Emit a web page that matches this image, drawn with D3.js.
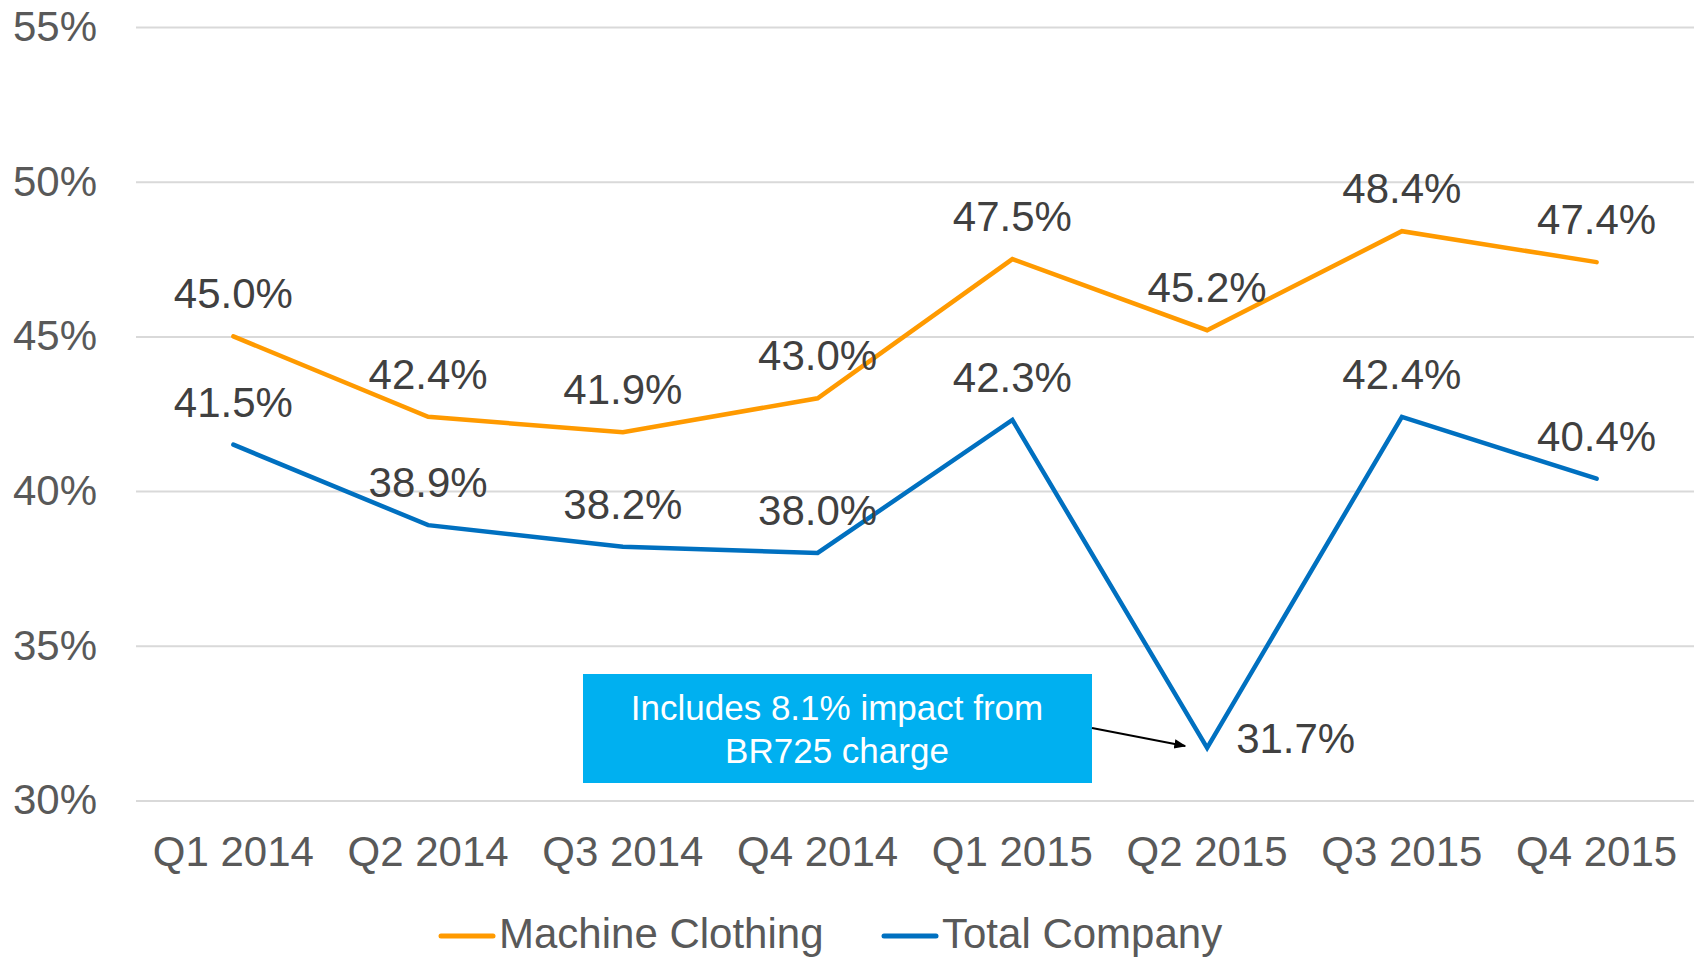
<!DOCTYPE html>
<html lang="en">
<head>
    <meta charset="UTF-8">
    <title>Gross Margin</title>
    <script src="https://d3js.org/d3.v7.min.js"></script>
    <style>
        body { margin: 0; background: #fff; }
        svg { display: block; font-family: Arial, "Liberation Sans", sans-serif; }
    </style>
</head>
<body>
<svg id="chart"></svg>
<script>
    const QUARTERS = ['Q1 2014', 'Q2 2014', 'Q3 2014', 'Q4 2014', 'Q1 2015', 'Q2 2015', 'Q3 2015', 'Q4 2015'];
    const MACHINE_CLOTHING = [45.0, 42.4, 41.9, 43.0, 47.5, 45.2, 48.4, 47.4];
    const TOTAL_COMPANY = [41.5, 38.9, 38.2, 38.0, 42.3, 31.7, 42.4, 40.4];
    const Y_TICKS = [30, 35, 40, 45, 50, 55];
    const SERIES_NAMES = ['Machine Clothing', 'Total Company'];
    const NOTE_LINES = ['Includes 8.1% impact from', 'BR725 charge'];

    const width = 1694;
    const height = 959;

    const svg = d3.select('#chart')
        .attr('width', width)
        .attr('height', height);

    const xScale = d3.scaleBand().domain(QUARTERS).range([136, 1694]);
    const yScale = d3.scaleLinear().domain([30, 55]).range([800.5, 27]);
    const cx = q => xScale(q) + xScale.bandwidth() / 2;

    // gridlines + y labels
    const yAxis = svg.append('g')
        .attr('transform', 'translate(136,0)')
        .call(d3.axisLeft(yScale).tickValues(Y_TICKS).tickSize(-(1694 - 136)).tickPadding(39)
            .tickFormat(d => d + '%'));
    yAxis.select('.domain').remove();
    yAxis.selectAll('.tick line').attr('stroke', '#d9d9d9').attr('stroke-width', 2);
    yAxis.selectAll('.tick text')
        .attr('font-size', 42).attr('fill', '#595959')
        .attr('font-family', 'Arial, "Liberation Sans", sans-serif');

    // x labels
    const xAxis = svg.append('g')
        .attr('transform', 'translate(0,800.5)')
        .call(d3.axisBottom(xScale).tickSize(0).tickPadding(36));
    xAxis.select('.domain').remove();
    xAxis.selectAll('.tick text')
        .attr('font-size', 42).attr('fill', '#595959')
        .attr('font-family', 'Arial, "Liberation Sans", sans-serif');

    const line = d3.line()
        .x((d, i) => cx(QUARTERS[i]))
        .y(d => yScale(d));

    const series = [
        {name: SERIES_NAMES[0], values: MACHINE_CLOTHING, color: '#ff9a00'},
        {name: SERIES_NAMES[1], values: TOTAL_COMPANY, color: '#0070c0'}
    ];

    series.forEach(s => {
        svg.append('path')
            .datum(s.values)
            .attr('fill', 'none')
            .attr('stroke', s.color)
            .attr('stroke-width', 4.5)
            .attr('stroke-linejoin', 'miter')
            .attr('stroke-linecap', 'round')
            .attr('d', line);
    });

    // data labels (the Q2 2015 dip is labelled to the right)
    series.forEach(s => {
        const side = (i) => s.name === 'Total Company' && i === 5;
        svg.append('g').selectAll('text')
            .data(s.values)
            .enter()
            .append('text')
            .attr('x', (d, i) => side(i) ? cx(QUARTERS[i]) + 29 : cx(QUARTERS[i]))
            .attr('y', (d, i) => side(i) ? yScale(d) + 5 : yScale(d) - 28)
            .attr('text-anchor', (d, i) => side(i) ? 'start' : 'middle')
            .attr('font-size', 42)
            .attr('fill', '#404040')
            .text(d => d.toFixed(1) + '%');
    });

    // annotation box
    const note = svg.append('g');
    note.append('rect')
        .attr('x', 583).attr('y', 674)
        .attr('width', 509).attr('height', 109)
        .attr('fill', '#00b0f0');
    note.selectAll('text')
        .data(NOTE_LINES)
        .enter()
        .append('text')
        .attr('x', 837)
        .attr('y', (d, i) => 720 + i * 43)
        .attr('text-anchor', 'middle')
        .attr('font-size', 35)
        .attr('fill', '#fff')
        .text(d => d);

    svg.append('defs').append('marker')
        .attr('id', 'arrow')
        .attr('viewBox', '0 0 10 10')
        .attr('refX', 9).attr('refY', 5)
        .attr('markerWidth', 6).attr('markerHeight', 6)
        .attr('orient', 'auto')
        .append('path')
        .attr('d', 'M0,1 L10,5 L0,9 Z')
        .attr('fill', '#000');

    const target = {x: cx(QUARTERS[5]) - 22, y: yScale(TOTAL_COMPANY[5]) - 2};
    svg.append('line')
        .attr('x1', 1092).attr('y1', 728)
        .attr('x2', target.x).attr('y2', target.y)
        .attr('stroke', '#000').attr('stroke-width', 2)
        .attr('marker-end', 'url(#arrow)');

    // legend
    const legend = svg.append('g');
    const legendPos = [{x: 441, tx: 499}, {x: 884, tx: 942}];
    series.forEach((s, i) => {
        legend.append('line')
            .attr('x1', legendPos[i].x).attr('x2', legendPos[i].x + 52)
            .attr('y1', 936).attr('y2', 936)
            .attr('stroke', s.color).attr('stroke-width', 5)
            .attr('stroke-linecap', 'round');
        legend.append('text')
            .attr('x', legendPos[i].tx).attr('y', 948)
            .attr('font-size', 42)
            .attr('fill', '#595959')
            .text(s.name);
    });
</script>
</body>
</html>
